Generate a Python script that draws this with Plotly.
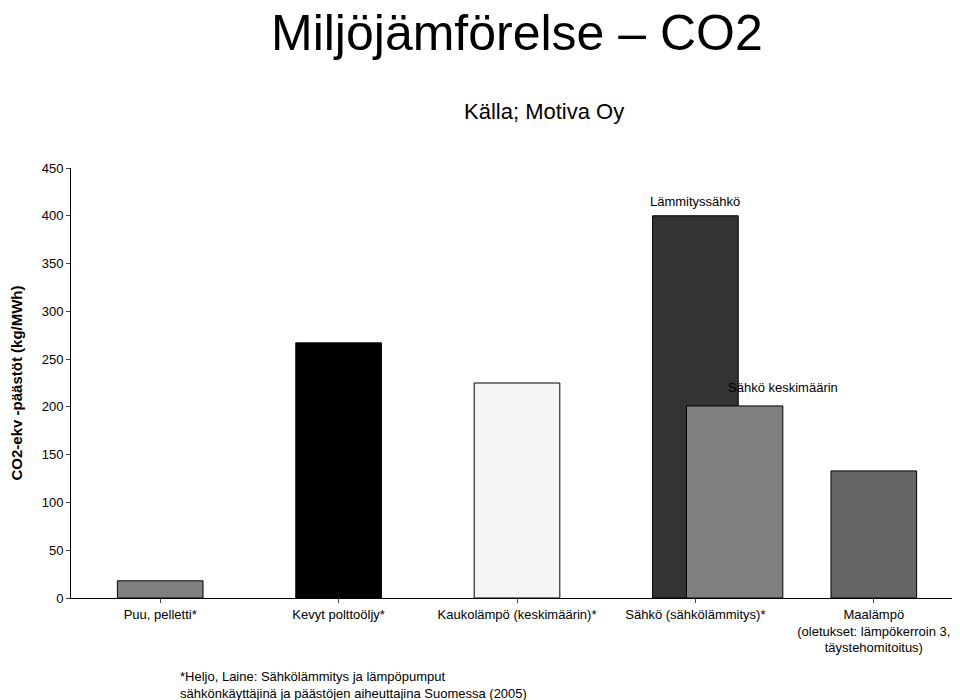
import plotly.graph_objects as go

categories = ["Puu, pelletti*", "Kevyt polttoöljy*", "Kaukolämpö (keskimäärin)*",
              "Sähkö (sähkölämmitys)*", "Maalämpö<br>(oletukset: lämpökerroin 3,<br>täystehomitoitus)"]
main_pos = [0, 1, 2, 3, 4]
main_vals = [18, 267, 225, 400, 133]
main_colors = ["#808080", "#000000", "#f5f5f5", "#333333", "#666666"]
avg_pos = [3.22]
avg_vals = [201]

fig = go.Figure()
fig.add_bar(x=main_pos, y=main_vals, width=0.48, marker=dict(color=main_colors, line=dict(color="black", width=1)), showlegend=False)
fig.add_bar(x=avg_pos, y=avg_vals, width=0.54, marker=dict(color="#808080", line=dict(color="black", width=1)), showlegend=False)

font = "Liberation Sans, Arial"
fig.update_layout(
    width=960, height=700, barmode="overlay", plot_bgcolor="white", paper_bgcolor="white",
    margin=dict(l=58, r=5, t=160, b=110), font=dict(family=font, color="black", size=13),
    xaxis=dict(range=[-0.5, 4.5], tickvals=main_pos, ticktext=categories, showline=True, linecolor="black",
               ticks="outside", ticklen=4, tickfont=dict(size=13)),
    yaxis=dict(range=[0, 450], dtick=50, showline=True, linecolor="black", ticks="outside", ticklen=4,
               showgrid=False, tickfont=dict(size=13),
               title=dict(text="<b>CO2-ekv -päästöt (kg/MWh)</b>", font=dict(size=15), standoff=18)),
    annotations=[
        dict(text="Miljöjämförelse – CO2", x=0.5, xref="paper", y=1.0, yref="paper", yshift=165, yanchor="top", xanchor="center", showarrow=False, font=dict(size=50)),
        dict(text="Källa; Motiva Oy", x=0.53, xref="paper", y=1.0, yref="paper", yshift=42, yanchor="bottom", showarrow=False, font=dict(size=22)),
        dict(text="Lämmityssähkö", x=3, y=400, yshift=14, showarrow=False, font=dict(size=13)),
        dict(text="Sähkö keskimäärin", x=3.49, y=220, showarrow=False, font=dict(size=13)),
        dict(text="*Heljo, Laine: Sähkölämmitys ja lämpöpumput<br>sähkönkäyttäjinä ja päästöjen aiheuttajina Suomessa (2005)",
             x=0.12, xref="paper", xanchor="left", y=-0.16, yref="paper", yanchor="top", align="left", showarrow=False, font=dict(size=13)),
    ],
)
fig.write_html("out.html")
